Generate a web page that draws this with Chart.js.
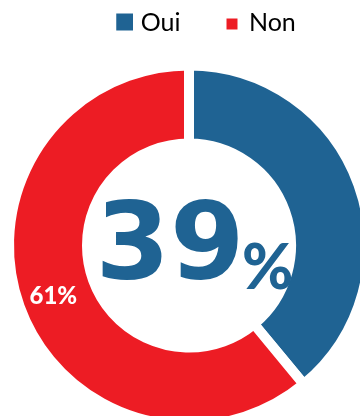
<!DOCTYPE html>
<html>
<head>
<meta charset="utf-8">
<script src="https://cdn.jsdelivr.net/npm/chart.js@4.4.1/dist/chart.umd.min.js"></script>
<style>
  html, body { margin: 0; padding: 0; background: #fff; }
  #frame { width: 360px; height: 416px; overflow: hidden; position: relative; }
  #wrap { position: absolute; left: 0; top: 0; }
</style>
</head>
<body>
<div id="frame"><div id="wrap"><canvas id="c" width="378" height="446"></canvas></div></div>
<script>
// Survey answers
const categories = ['Oui', 'Non'];
const values = [39, 61];
const colors = ['#1F6393', '#ED1C24'];

const BLUE = colors[0];
const FONT = 'Lato, "Open Sans", sans-serif';

// Legend markers: a square sitting at the right end of a transparent strip,
// so the spacing between the two legend entries can be set from the marker.
function marker(color, imgW, imgH, sqX, sqY, sq) {
  const cv = document.createElement('canvas');
  cv.width = imgW; cv.height = imgH;
  const g = cv.getContext('2d');
  g.fillStyle = color;
  g.fillRect(sqX, sqY, sq, sq);
  return cv;
}
const markers = [
  marker(colors[0], 56, 24, 39, 3, 17),
  marker(colors[1], 50, 24, 38, 8, 11)
];

// Big percentage in the hole + value label on the second slice
const centerText = {
  id: 'centerText',
  afterDatasetsDraw(chart) {
    const ctx = chart.ctx;
    const arc0 = chart.getDatasetMeta(0).data[0];
    const cx = arc0.x, cy = arc0.y;
    ctx.save();
    ctx.fillStyle = BLUE;
    ctx.textBaseline = 'alphabetic';
    ctx.font = 'bold 107px "DejaVu Sans", sans-serif';
    ctx.textAlign = 'center';
    ctx.fillText(String(values[0]), cx - 19, cy + 32);
    ctx.font = '900 62px ' + FONT;
    ctx.textAlign = 'left';
    ctx.fillText('%', cx + 53, cy + 43);

    // value label on the "Non" slice
    const arc1 = chart.getDatasetMeta(0).data[1];
    const p = arc1.tooltipPosition();
    ctx.fillStyle = '#ffffff';
    ctx.font = '900 24px ' + FONT;
    ctx.textAlign = 'center';
    ctx.textBaseline = 'middle';
    ctx.fillText(values[1] + '%', p.x - 3, p.y + 3);
    ctx.restore();
  }
};

new Chart(document.getElementById('c'), {
  type: 'doughnut',
  data: {
    labels: categories,
    datasets: [{
      data: values,
      backgroundColor: colors,
      borderColor: '#ffffff',
      borderWidth: 10,
      hoverBorderWidth: 10,
      hoverOffset: 0
    }]
  },
  options: {
    responsive: false,
    animation: false,
    events: [],
    cutout: '56.67%',
    layout: { padding: { left: 4, right: 4, top: 0, bottom: 0 } },
    plugins: {
      tooltip: { enabled: false },
      legend: {
        position: 'top',
        labels: {
          usePointStyle: true,
          pointStyleWidth: 46,
          padding: 10,
          color: '#000000',
          font: { family: FONT, size: 25 },
          generateLabels(chart) {
            return categories.map((name, i) => ({
              text: name,
              fillStyle: colors[i],
              strokeStyle: colors[i],
              lineWidth: 0,
              pointStyle: markers[i],
              hidden: false,
              index: i
            }));
          }
        }
      }
    }
  },
  plugins: [centerText]
});
</script>
</body>
</html>
